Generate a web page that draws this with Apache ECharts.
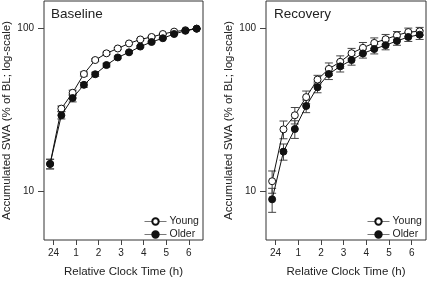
<!DOCTYPE html>
<html>
<head>
<meta charset="utf-8">
<script src="https://cdn.jsdelivr.net/npm/echarts@6/dist/echarts.min.js"></script>
<style>
  html, body { margin: 0; padding: 0; background: #fff; }
  #chart { width: 427px; height: 283px; }
</style>
</head>
<body>
<div id="chart"></div>
<script>
// half-hour bins, hours relative to midnight (24)
const hours = [-0.15, 0.35, 0.85, 1.35, 1.85, 2.35, 2.85, 3.35, 3.85, 4.35, 4.85, 5.35, 5.85, 6.35]
const tickHours = [0, 1, 2, 3, 4, 5, 6]
const tickLabels = ['24', '1', '2', '3', '4', '5', '6']
const yTicks = [10, 100]

// Baseline (% of BL)
const baseYoung = [14.7, 32.2, 40.3, 52.6, 64.1, 70.5, 75.5, 81.1, 85.8, 88.9, 92.7, 95.9, 97.8, 100]
const baseYoungErr = [1.0, 1.2, 1.5, 1.5, 1.2, 1.2, 1.0, 1.0, 1.0, 0.8, 0.6, 0.5, 0.3, 0]
const baseOlder = [14.7, 29.3, 37.4, 45.1, 52.4, 59.7, 66.5, 71.5, 77.6, 82.8, 87.3, 92.7, 97.0, 100]
const baseOlderErr = [1.0, 1.5, 2.0, 1.5, 1.5, 1.5, 1.2, 1.0, 1.0, 1.0, 0.8, 0.6, 0.3, 0]

// Recovery (% of BL)
const recYoung = [11.5, 24.0, 29.3, 37.9, 48.6, 56.5, 62.5, 70.6, 76.2, 81.7, 86.1, 91.0, 95.3, 96.3]
const recYoungErr = [1.8, 3.0, 3.4, 3.4, 3.0, 5.0, 5.5, 5.0, 6.0, 6.0, 6.0, 5.0, 5.5, 5.5]
const recOlder = [8.9, 17.5, 24.1, 33.4, 43.6, 52.6, 58.6, 64.1, 70.4, 74.9, 79.1, 84.0, 88.9, 91.8]
const recOlderErr = [1.5, 2.0, 3.0, 3.0, 3.3, 4.0, 4.5, 4.5, 4.5, 5.0, 5.0, 5.0, 5.5, 6.0]

const txt = '#222'
const font = 'Liberation Sans, Arial, sans-serif'

function pairs (vals) {
  return vals.map((v, i) => [hours[i], v])
}

function errSeries (idx, vals, errs) {
  return {
    type: 'custom',
    xAxisIndex: idx,
    yAxisIndex: idx,
    silent: true,
    z: 1,
    data: vals.map((v, i) => [hours[i], v, errs[i]]),
    renderItem: function (params, api) {
      const x = api.value(0), y = api.value(1), e = api.value(2)
      const hi = api.coord([x, y + e])
      const lo = api.coord([x, y - e])
      const w = 4
      const style = { stroke: '#444', lineWidth: 1 }
      return {
        type: 'group',
        children: [
          { type: 'line', shape: { x1: hi[0], y1: hi[1], x2: lo[0], y2: lo[1] }, style: style },
          { type: 'line', shape: { x1: hi[0] - w, y1: hi[1], x2: hi[0] + w, y2: hi[1] }, style: style },
          { type: 'line', shape: { x1: lo[0] - w, y1: lo[1], x2: lo[0] + w, y2: lo[1] }, style: style }
        ]
      }
    }
  }
}

function lineSeries (idx, name, vals, open) {
  return {
    name: name,
    type: 'line',
    xAxisIndex: idx,
    yAxisIndex: idx,
    data: pairs(vals),
    symbol: 'circle',
    symbolSize: 7,
    z: open ? 3 : 4,
    lineStyle: { color: '#111', width: 1 },
    itemStyle: { color: open ? '#fff' : '#111', borderColor: '#111', borderWidth: 1 },
    emphasis: { disabled: true }
  }
}

function xAxis (idx) {
  return {
    type: 'value',
    gridIndex: idx,
    min: -0.42,
    max: 6.63,
    axisLine: { show: false, onZero: false },
    splitLine: { show: false },
    axisTick: { show: true, inside: false, customValues: tickHours, length: 5, lineStyle: { color: '#444' } },
    axisLabel: {
      customValues: tickHours,
      margin: 8,
      color: txt,
      fontFamily: font,
      fontSize: 10,
      formatter: v => tickLabels[tickHours.indexOf(Math.round(v))]
    },
    name: 'Relative Clock Time (h)',
    nameLocation: 'middle',
    nameGap: 26,
    nameTextStyle: { color: txt, fontFamily: font, fontSize: 11.5 }
  }
}

function yAxis (idx) {
  return {
    type: 'log',
    logBase: 10,
    gridIndex: idx,
    position: 'left',
    min: 5,
    max: 148,
    axisLine: { show: false, onZero: false },
    splitLine: { show: false },
    minorTick: { show: false },
    axisTick: { show: true, inside: false, customValues: yTicks, length: 6, lineStyle: { color: '#444' } },
    axisLabel: { customValues: yTicks, margin: 10, color: txt, fontFamily: font, fontSize: 10 },
    name: 'Accumulated SWA (% of BL; log-scale)',
    nameLocation: 'middle',
    nameGap: 31,
    nameTextStyle: { color: txt, fontFamily: font, fontSize: 11.5 }
  }
}

function legend (left) {
  return {
    left: left, top: 211, orient: 'vertical', itemGap: 2, itemWidth: 22, itemHeight: 8,
    data: ['Young', 'Older'], selectedMode: false,
    lineStyle: { width: 1, color: '#777' },
    textStyle: { color: txt, fontFamily: font, fontSize: 10.5, padding: [0, 0, 0, -2] }
  }
}

const chart = echarts.init(document.getElementById('chart'), null, { renderer: 'canvas' })
chart.setOption({
  animation: false,
  backgroundColor: '#fff',
  title: [
    { text: 'Baseline', left: 46, top: 2, textStyle: { color: txt, fontFamily: font, fontSize: 13.5, fontWeight: 'normal' } },
    { text: 'Recovery', left: 269, top: 2, textStyle: { color: txt, fontFamily: font, fontSize: 13.5, fontWeight: 'normal' } }
  ],
  legend: [legend(139), legend(362)],
  grid: [
    { left: 43, top: 1, width: 160, height: 242, show: true, borderColor: '#333', borderWidth: 1 },
    { left: 266, top: 1, width: 160, height: 242, show: true, borderColor: '#333', borderWidth: 1 }
  ],
  xAxis: [xAxis(0), xAxis(1)],
  yAxis: [yAxis(0), yAxis(1)],
  series: [
    errSeries(0, baseYoung, baseYoungErr),
    errSeries(0, baseOlder, baseOlderErr),
    lineSeries(0, 'Young', baseYoung, true),
    lineSeries(0, 'Older', baseOlder, false),
    errSeries(1, recYoung, recYoungErr),
    errSeries(1, recOlder, recOlderErr),
    lineSeries(1, 'Young', recYoung, true),
    lineSeries(1, 'Older', recOlder, false)
  ]
})
</script>
</body>
</html>
